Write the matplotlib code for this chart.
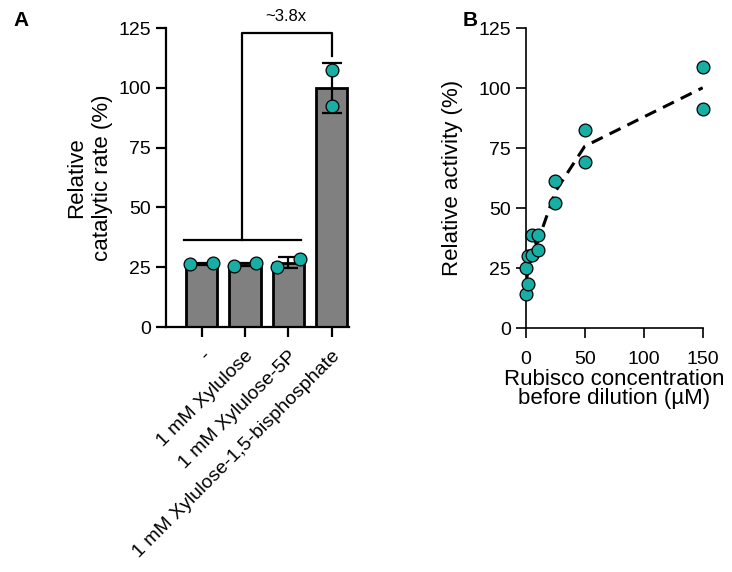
import numpy as np
import matplotlib
matplotlib.use('Agg')
import matplotlib.pyplot as plt

plt.rcParams['font.family'] = ['Liberation Sans', 'DejaVu Sans']

# panel A data
conditions = ['-', '1 mM Xylulose', '1 mM Xylulose-5P', '1 mM Xylulose-1,5-bisphosphate']
reps_a = [[26.2, 26.8], [25.6, 26.6], [25.2, 28.4], [107.4, 92.4]]
fold_text = '~3.8x'

# panel B data
conc = [0.5, 0.5, 2, 2, 5, 5, 10, 10, 25, 25, 50, 50, 150, 150]
activity = [14.2, 25.0, 18.3, 30.2, 30.5, 38.9, 32.6, 38.9, 61.5, 52.3, 82.5, 69.2, 109.0, 91.5]

teal = '#17AFA5'

fig = plt.figure(figsize=(7.32, 5.72), dpi=100)
axA = fig.add_axes([0.2264, 0.4283, 0.2504, 0.5227])
axB = fig.add_axes([0.7182, 0.426, 0.2418, 0.5245])

# ---- A ----
xpos = np.arange(len(conditions))
means = [np.mean(r) for r in reps_a]
sds = [np.std(r, ddof=1) for r in reps_a]
axA.bar(xpos, means, width=0.72, color='#808080', edgecolor='black', linewidth=2, zorder=2)
axA.errorbar(xpos, means, yerr=sds, fmt='none', ecolor='black', elinewidth=1.6,
             capsize=7, capthick=1.6, zorder=3)
for i, r in enumerate(reps_a):
    axA.scatter([xpos[i] - 0.26, xpos[i] + 0.26] if i < 3 else [xpos[i], xpos[i]], r,
                s=85, color=teal, edgecolor='black', linewidth=0.9, zorder=4, clip_on=False)

# bracket
axA.plot([-0.4, 2.3], [36.4, 36.4], color='black', lw=1.6, zorder=3)
axA.plot([0.94, 0.94, 3, 3], [36.4, 123, 123, 113.5], color='black', lw=1.6, clip_on=False)
axA.text(1.95, 126.5, fold_text, ha='center', va='bottom', fontsize=12)

axA.set_xlim(-0.83, 3.4)
axA.set_ylim(0, 125)
axA.set_yticks([0, 25, 50, 75, 100, 125])
axA.set_xticks(xpos)
axA.set_xticklabels(conditions, rotation=45, ha='right', rotation_mode='anchor', fontsize=14)
axA.set_ylabel('Relative\ncatalytic rate (%)', fontsize=16, labelpad=4, linespacing=1.3)
for s in ['top', 'right']:
    axA.spines[s].set_visible(False)
for s in ['left', 'bottom']:
    axA.spines[s].set_linewidth(1.6)
axA.tick_params(width=1.6, length=7, labelsize=14)
axA.tick_params(axis='x', labelsize=14, pad=8)

# ---- B ----
xs = sorted(set(conc))
line_y = [np.mean([a for c, a in zip(conc, activity) if c == x]) for x in xs]
axB.plot(xs, line_y, color='black', lw=2.2, ls=(0, (4, 2.5)), zorder=2)
axB.scatter(conc, activity, s=85, color=teal, edgecolor='black', linewidth=0.9, zorder=3, clip_on=False)
axB.set_xlim(0, 150)
axB.set_ylim(0, 125)
axB.set_xticks([0, 50, 100, 150])
axB.set_yticks([0, 25, 50, 75, 100, 125])
axB.set_ylabel('Relative activity (%)', fontsize=16, labelpad=11)
axB.set_xlabel('Rubisco concentration\nbefore dilution (\u00b5M)', fontsize=16, labelpad=1, linespacing=0.9)
for s in ['top', 'right']:
    axB.spines[s].set_visible(False)
for s in ['left', 'bottom']:
    axB.spines[s].set_linewidth(1.2)
axB.tick_params(width=1.2, length=7, labelsize=14)
axB.tick_params(axis='x', pad=9)

fig.text(0.018, 0.965, 'A', fontsize=15, fontweight='bold', va='center')
fig.text(0.632, 0.965, 'B', fontsize=15, fontweight='bold', va='center')

fig.savefig('out.png', dpi=100)
